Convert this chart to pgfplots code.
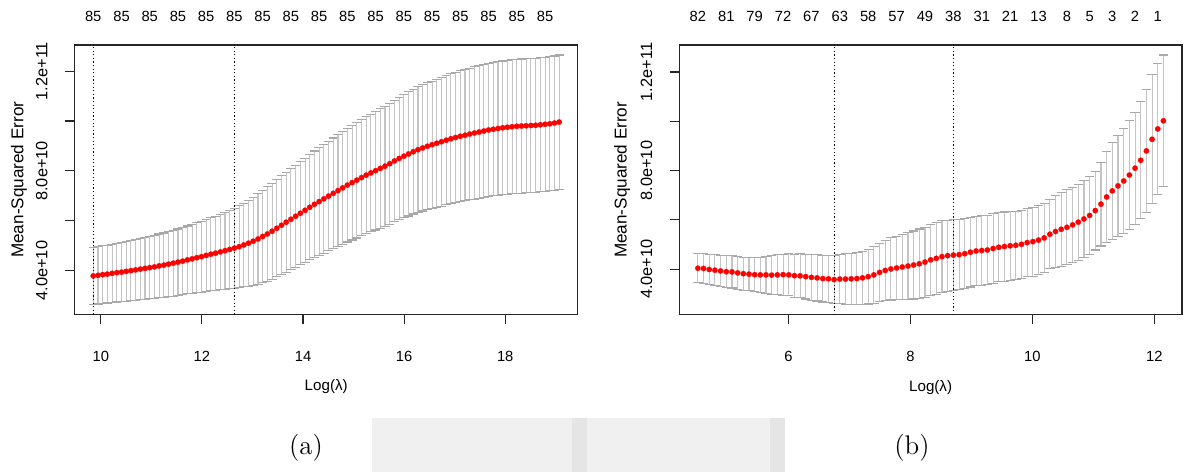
\documentclass[border=0pt]{standalone}
\usepackage{fontspec}
\newfontfamily\arial{Liberation Sans}
\usepackage{pgfplots}
\usepackage{pgfplotstable}
\pgfplotsset{compat=1.18}
\definecolor{barc}{HTML}{C4C4C4}
\definecolor{capc}{HTML}{A9A9A9}

% left panel: log(lambda), mean CV error (units of 1e10), standard error (units of 1e10)
\pgfplotstableread{
x m se
9.850 3.79 1.15
9.943 3.81 1.15
10.036 3.84 1.16
10.129 3.86 1.16
10.222 3.89 1.17
10.316 3.92 1.18
10.409 3.94 1.19
10.502 3.97 1.20
10.595 4.00 1.21
10.688 4.03 1.22
10.781 4.06 1.23
10.874 4.09 1.24
10.967 4.12 1.25
11.060 4.15 1.27
11.153 4.19 1.28
11.247 4.22 1.29
11.340 4.26 1.31
11.433 4.30 1.32
11.526 4.34 1.33
11.619 4.38 1.35
11.712 4.43 1.36
11.805 4.47 1.38
11.898 4.52 1.40
11.991 4.56 1.42
12.084 4.61 1.44
12.178 4.66 1.46
12.271 4.70 1.48
12.364 4.75 1.51
12.457 4.80 1.54
12.550 4.85 1.57
12.643 4.90 1.60
12.736 4.96 1.64
12.829 5.03 1.68
12.922 5.10 1.72
13.015 5.18 1.77
13.109 5.27 1.81
13.202 5.37 1.85
13.295 5.47 1.89
13.388 5.58 1.92
13.481 5.70 1.95
13.574 5.82 1.98
13.667 5.94 2.00
13.760 6.06 2.03
13.853 6.18 2.05
13.946 6.30 2.07
14.040 6.42 2.09
14.133 6.54 2.11
14.226 6.66 2.14
14.319 6.77 2.16
14.412 6.88 2.18
14.505 6.99 2.20
14.598 7.10 2.22
14.691 7.21 2.24
14.784 7.32 2.26
14.877 7.43 2.28
14.971 7.53 2.30
15.064 7.63 2.32
15.157 7.73 2.33
15.250 7.83 2.35
15.343 7.92 2.36
15.436 8.01 2.38
15.529 8.10 2.40
15.622 8.19 2.41
15.715 8.29 2.43
15.808 8.40 2.44
15.902 8.50 2.46
15.995 8.59 2.47
16.088 8.68 2.49
16.181 8.77 2.50
16.274 8.85 2.52
16.367 8.92 2.53
16.460 8.99 2.54
16.553 9.05 2.55
16.646 9.11 2.57
16.739 9.17 2.58
16.833 9.23 2.59
16.926 9.29 2.60
17.019 9.34 2.61
17.112 9.39 2.62
17.205 9.43 2.63
17.298 9.48 2.64
17.391 9.52 2.65
17.484 9.56 2.65
17.577 9.60 2.66
17.670 9.64 2.67
17.764 9.67 2.67
17.857 9.70 2.68
17.950 9.73 2.68
18.043 9.75 2.68
18.136 9.77 2.69
18.229 9.79 2.69
18.322 9.80 2.69
18.415 9.81 2.69
18.508 9.82 2.69
18.601 9.83 2.69
18.695 9.85 2.69
18.788 9.87 2.69
18.881 9.89 2.69
18.974 9.92 2.69
19.067 9.96 2.69
}\lefttab

% right panel
\pgfplotstableread{
x m se
4.516 4.04 0.59
4.609 4.03 0.60
4.702 3.99 0.61
4.795 3.96 0.62
4.888 3.93 0.63
4.982 3.90 0.64
5.075 3.89 0.65
5.168 3.85 0.66
5.261 3.82 0.67
5.354 3.80 0.67
5.447 3.78 0.69
5.540 3.77 0.72
5.633 3.77 0.75
5.726 3.76 0.78
5.819 3.77 0.81
5.913 3.78 0.83
6.006 3.77 0.85
6.099 3.74 0.87
6.192 3.73 0.89
6.285 3.70 0.91
6.378 3.67 0.93
6.471 3.65 0.94
6.564 3.62 0.95
6.657 3.61 0.96
6.750 3.58 0.97
6.844 3.60 0.99
6.937 3.60 1.02
7.030 3.61 1.04
7.123 3.62 1.06
7.216 3.65 1.08
7.309 3.70 1.11
7.402 3.77 1.15
7.495 3.87 1.19
7.588 3.95 1.23
7.681 4.01 1.26
7.775 4.05 1.29
7.868 4.09 1.32
7.961 4.13 1.35
8.054 4.17 1.38
8.147 4.22 1.41
8.240 4.29 1.42
8.333 4.38 1.43
8.426 4.44 1.45
8.519 4.51 1.45
8.612 4.55 1.44
8.706 4.57 1.43
8.799 4.59 1.43
8.892 4.63 1.42
8.985 4.69 1.41
9.078 4.74 1.41
9.171 4.76 1.41
9.264 4.78 1.41
9.357 4.84 1.41
9.450 4.89 1.40
9.543 4.92 1.40
9.637 4.95 1.39
9.730 4.97 1.38
9.823 5.01 1.37
9.916 5.08 1.38
10.009 5.12 1.40
10.102 5.18 1.41
10.195 5.27 1.40
10.288 5.42 1.39
10.381 5.53 1.45
10.474 5.62 1.51
10.568 5.70 1.52
10.661 5.80 1.53
10.754 5.91 1.54
10.847 6.04 1.56
10.940 6.18 1.58
11.033 6.38 1.60
11.126 6.64 1.70
11.219 6.93 1.85
11.312 7.18 1.97
11.405 7.38 2.05
11.499 7.58 2.14
11.592 7.82 2.21
11.685 8.10 2.27
11.778 8.42 2.38
11.871 8.80 2.50
11.964 9.27 2.62
12.057 9.69 2.66
12.150 10.02 2.67
}\righttab

\newcommand\tlf{\arial\fontsize{7.4}{8.5}\selectfont}
\newcommand\toplf{\arial\fontsize{7.4}{8.5}\selectfont}

\pgfplotsset{cvstyle/.style={
  scale only axis,
  axis line style={draw=black!85, line width=0.55bp},
  tick align=outside, tick pos=left, major tick length=4.8bp,
  tick style={draw=black!85, line width=0.55bp},
  scaled ticks=false, clip=false,
  /pgf/number format/assume math mode=true,
  ytick={4,6,8,10,12},
  yticklabels={4.0e+10,,8.0e+10,,1.2e+11},
  xticklabel style={font=\tlf, anchor=north, inner sep=0pt, yshift=-13.4bp},
  yticklabel style={font=\arial\fontsize{8.2}{9}\selectfont, anchor=south, inner sep=0pt, xshift=-8.5bp, rotate=90},
  xlabel={Log(λ)},
  ylabel={Mean-Squared Error},
  xlabel style={font=\arial\fontsize{7.6}{9}\selectfont, at={(rel axis cs:0.5,-0.269)}, anchor=center, inner sep=0pt},
  ylabel style={font=\arial\fontsize{8.6}{10}\selectfont, anchor=center, inner sep=0pt},
  bars/.style={draw=none, mark=none, forget plot,
    error bars/.cd, y dir=both, y explicit,
    error bar style={draw=barc, line width=0.55bp},
    error mark=|,
    error mark options={draw=capc, line width=0.55bp, mark size=2.33bp}},
  dots/.style={red, only marks, mark=*, mark size=1.35bp, mark options={fill=red, draw=red, line width=0.1bp}},
  vline/.style={black, line width=0.5bp, dash pattern=on 0.6bp off 1.2bp},
}}

\begin{document}
\begin{tikzpicture}
\useasboundingbox (0,0) rectangle (592bp,-236bp);
% faint background band
\fill[black!6] (185.85bp,-209.15bp) rectangle (392.5bp,-236bp);
\fill[black!10] (285.9bp,-209.15bp) rectangle (293.4bp,-236bp);
\fill[black!10] (385bp,-209.15bp) rectangle (392.5bp,-236bp);

\begin{axis}[cvstyle,
  at={(37.3bp,-157.25bp)}, anchor=south west,
  width=251.6bp, height=134.75bp,
  xmin=9.481, xmax=19.436, ymin=2.24, ymax=13.05,
  xtick={10,12,14,16,18}, xticklabels={10,12,14,16,18},
  ylabel style={at={(rel axis cs:-0.1105,0.5)}},
]
\addplot[bars] table[x=x, y=m, y error=se] {\lefttab};
\addplot[dots] table[x=x, y=m] {\lefttab};
\addplot[vline] coordinates {(9.850,2.24) (9.850,13.05)};
\addplot[vline] coordinates {(12.643,2.24) (12.643,13.05)};
\node[font=\toplf, anchor=center, yshift=14.5bp] at (axis cs:9.850,13.05) {85};
\node[font=\toplf, anchor=center, yshift=14.5bp] at (axis cs:10.409,13.05) {85};
\node[font=\toplf, anchor=center, yshift=14.5bp] at (axis cs:10.967,13.05) {85};
\node[font=\toplf, anchor=center, yshift=14.5bp] at (axis cs:11.526,13.05) {85};
\node[font=\toplf, anchor=center, yshift=14.5bp] at (axis cs:12.084,13.05) {85};
\node[font=\toplf, anchor=center, yshift=14.5bp] at (axis cs:12.643,13.05) {85};
\node[font=\toplf, anchor=center, yshift=14.5bp] at (axis cs:13.202,13.05) {85};
\node[font=\toplf, anchor=center, yshift=14.5bp] at (axis cs:13.760,13.05) {85};
\node[font=\toplf, anchor=center, yshift=14.5bp] at (axis cs:14.319,13.05) {85};
\node[font=\toplf, anchor=center, yshift=14.5bp] at (axis cs:14.877,13.05) {85};
\node[font=\toplf, anchor=center, yshift=14.5bp] at (axis cs:15.436,13.05) {85};
\node[font=\toplf, anchor=center, yshift=14.5bp] at (axis cs:15.995,13.05) {85};
\node[font=\toplf, anchor=center, yshift=14.5bp] at (axis cs:16.553,13.05) {85};
\node[font=\toplf, anchor=center, yshift=14.5bp] at (axis cs:17.112,13.05) {85};
\node[font=\toplf, anchor=center, yshift=14.5bp] at (axis cs:17.670,13.05) {85};
\node[font=\toplf, anchor=center, yshift=14.5bp] at (axis cs:18.229,13.05) {85};
\node[font=\toplf, anchor=center, yshift=14.5bp] at (axis cs:18.788,13.05) {85};
\end{axis}

\begin{axis}[cvstyle,
  at={(339.65bp,-157.35bp)}, anchor=south west,
  width=251.35bp, height=134.85bp,
  xmin=4.211, xmax=12.455, ymin=2.155, ymax=13.095,
  xtick={6,8,10,12}, xticklabels={6,8,10,12},
  ylabel style={at={(rel axis cs:-0.1134,0.5)}},
]
\addplot[bars] table[x=x, y=m, y error=se] {\righttab};
\addplot[dots] table[x=x, y=m] {\righttab};
\addplot[vline] coordinates {(6.750,2.155) (6.750,13.095)};
\addplot[vline] coordinates {(8.706,2.155) (8.706,13.095)};
\node[font=\toplf, anchor=center, yshift=14.5bp] at (axis cs:4.516,13.095) {82};
\node[font=\toplf, anchor=center, yshift=14.5bp] at (axis cs:4.982,13.095) {81};
\node[font=\toplf, anchor=center, yshift=14.5bp] at (axis cs:5.447,13.095) {79};
\node[font=\toplf, anchor=center, yshift=14.5bp] at (axis cs:5.913,13.095) {72};
\node[font=\toplf, anchor=center, yshift=14.5bp] at (axis cs:6.378,13.095) {67};
\node[font=\toplf, anchor=center, yshift=14.5bp] at (axis cs:6.844,13.095) {63};
\node[font=\toplf, anchor=center, yshift=14.5bp] at (axis cs:7.309,13.095) {58};
\node[font=\toplf, anchor=center, yshift=14.5bp] at (axis cs:7.775,13.095) {57};
\node[font=\toplf, anchor=center, yshift=14.5bp] at (axis cs:8.240,13.095) {49};
\node[font=\toplf, anchor=center, yshift=14.5bp] at (axis cs:8.706,13.095) {38};
\node[font=\toplf, anchor=center, yshift=14.5bp] at (axis cs:9.171,13.095) {31};
\node[font=\toplf, anchor=center, yshift=14.5bp] at (axis cs:9.637,13.095) {21};
\node[font=\toplf, anchor=center, yshift=14.5bp] at (axis cs:10.102,13.095) {13};
\node[font=\toplf, anchor=center, yshift=14.5bp] at (axis cs:10.568,13.095) {8};
\node[font=\toplf, anchor=center, yshift=14.5bp] at (axis cs:10.940,13.095) {5};
\node[font=\toplf, anchor=center, yshift=14.5bp] at (axis cs:11.312,13.095) {3};
\node[font=\toplf, anchor=center, yshift=14.5bp] at (axis cs:11.685,13.095) {2};
\node[font=\toplf, anchor=center, yshift=14.5bp] at (axis cs:12.057,13.095) {1};
\end{axis}

\node[font=\fontsize{13.5}{16}\selectfont, anchor=center] at (153bp,-224bp) {(a)};
\node[font=\fontsize{13.5}{16}\selectfont, anchor=center] at (456bp,-224bp) {(b)};
\end{tikzpicture}
\end{document}
